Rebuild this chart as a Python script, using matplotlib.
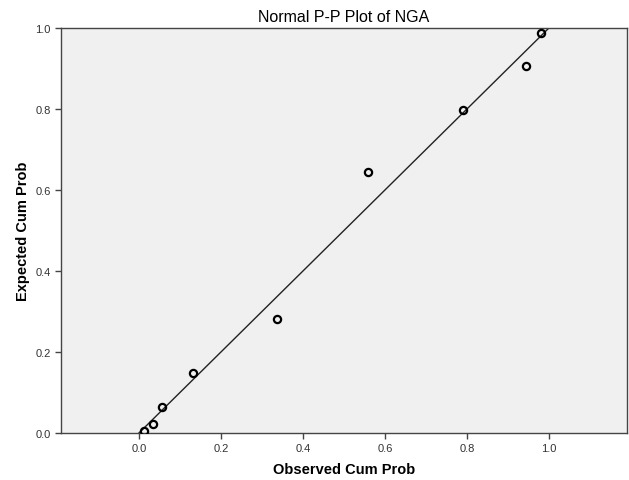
import matplotlib
matplotlib.use("Agg")
import matplotlib.pyplot as plt

# ---- Data ----
observed = [0.012, 0.034, 0.056, 0.132, 0.337, 0.559, 0.789, 0.944, 0.979]
expected = [0.006, 0.022, 0.064, 0.148, 0.281, 0.644, 0.798, 0.905, 0.988]
ref_line = [0.0, 1.0]
ticks = [0.0, 0.2, 0.4, 0.6, 0.8, 1.0]
tick_labels = ["0.0", "0.2", "0.4", "0.6", "0.8", "1.0"]

plt.rcParams["font.family"] = ["Liberation Sans", "DejaVu Sans"]

fig = plt.figure(figsize=(6.29, 4.81), dpi=100)
ax = fig.add_axes([0.097, 0.0977, 0.9, 0.8425])
ax.set_facecolor("#F0F0F0")

ax.plot(ref_line, ref_line, color="#222222", lw=1.0, zorder=2)
ax.plot(observed, expected, "o", ms=5.2, mfc="none", mec="black", mew=1.6, zorder=3)

ax.set_xlim(-0.19, 1.19)
ax.set_ylim(0.0, 1.0)
ax.set_xticks(ticks)
ax.set_xticklabels(tick_labels)
ax.set_yticks(ticks)
ax.set_yticklabels(tick_labels)
ax.tick_params(direction="out", length=4, width=1, colors="#444444",
               labelsize=8, labelcolor="#333333")
ax.tick_params(top=False, right=False)
for s in ax.spines.values():
    s.set_color("#444444")
    s.set_linewidth(1.0)

ax.set_title("Normal P-P Plot of NGA", fontsize=11.5, pad=5)
ax.set_xlabel("Observed Cum Prob", fontsize=10.5, fontweight="bold", labelpad=6)
ax.set_ylabel("Expected Cum Prob", fontsize=10.5, fontweight="bold", labelpad=4)

fig.savefig("out.png", dpi=100)
